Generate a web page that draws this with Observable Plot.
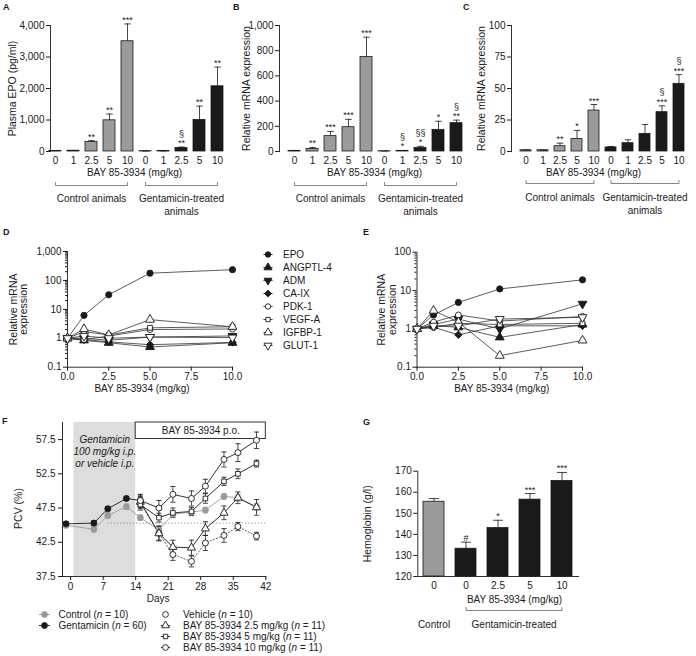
<!DOCTYPE html>
<html><head><meta charset="utf-8">
<script src="https://cdn.jsdelivr.net/npm/d3@7"></script>
<script src="https://cdn.jsdelivr.net/npm/@observablehq/plot@0.6"></script>
<style>
body{margin:0;background:#fff;}
#fig{position:relative;width:696px;height:656px;overflow:hidden;font-family:"Liberation Sans",Arial,Helvetica,sans-serif;color:#1a1a1a;}
#fig svg{position:absolute;overflow:visible;}
.lt{position:absolute;font-weight:bold;font-size:9px;line-height:9px;}
</style></head><body><div id="fig"></div>
<script>
// ---------------- DATA ----------------
const doses = ["0", "1", "2.5", "5", "10"];
// Panel A: plasma EPO (pg/ml)
const aControl = [20, 25, 300, 990, 3500];
const aControlErr = [5, 5, 45, 200, 550];
const aGent = [10, 15, 110, 1000, 2070];
const aGentErr = [3, 3, 30, 440, 610];
const aSigControl = ["", "", "**", "**", "***"];
const aSigGent = ["", "", "§\n**", "**", "**"];
// Panel B: EPO mRNA (kidney)
const bControl = [5, 20, 122, 193, 750];
const bControlErr = [2, 12, 37, 62, 157];
const bGent = [2, 5, 29, 172, 225];
const bGentErr = [1, 3, 12, 68, 24];
const bSigControl = ["", "**", "***", "***", "***"];
const bSigGent = ["", "§\n*", "§§\n*", "*", "§\n**"];
// Panel C: EPO mRNA (liver)
const cControl = [1, 1, 4.2, 10, 32.5];
const cControlErr = [0.2, 0.2, 2.4, 6.7, 4.8];
const cGent = [3.2, 6.6, 14, 31.2, 53.7];
const cGentErr = [0.8, 2.7, 7.4, 5, 7.3];
const cSigControl = ["", "", "**", "*", "***"];
const cSigGent = ["", "", "", "§\n***", "§\n***"];
// Panels D/E: relative mRNA expression by gene
const genes = ["EPO", "ANGPTL-4", "ADM", "CA-IX", "PDK-1", "VEGF-A", "IGFBP-1", "GLUT-1"];
const geneDoses = [0, 1, 2.5, 5, 10];
const dValues = [
  [1, 6.2, 32, 178, 235],
  [1, 0.85, 0.7, 0.5, 0.7],
  [1, 1.0, 0.85, 1.1, 1.2],
  [1, 0.9, 0.75, 0.6, 0.72],
  [1, 0.9, 1.2, 2.0, 2.1],
  [1, 1.7, 1.3, 2.3, 2.5],
  [1, 2.1, 1.3, 4.4, 2.5],
  [1, 1.2, 1.0, 1.1, 1.05]
];
const eValues = [
  [1, 2.3, 4.9, 11, 19],
  [1, 1.2, 1.1, 0.6, 1.3],
  [1, 1.3, 1.8, 1.0, 4.5],
  [1, 1.1, 0.7, 1.2, 1.2],
  [1, 1.5, 2.3, 1.6, 2.1],
  [1, 1.1, 1.4, 1.3, 1.4],
  [1, 3.0, 1.5, 0.2, 0.5],
  [1, 1.2, 1.2, 1.8, 2.0]
];
// Panel F: PCV (%) over days
const gentPeriod = [0.7, 14];
const bayPeriod = [14, 42];
const pcvBaseline = 45.3;
const daysAll = [-1, 5, 8, 12, 15, 19, 22, 26, 29, 33, 36, 40];
const pcvControl = [45.0, 44.4, 46.4, 47.7, 46.1, 44.3, 46.6, 46.9, 47.2, 49.2, 49.0, 47.7];
const pcvControlErr = [0.4, 0.4, 0.4, 0.4, 0.4, 0.5, 0.4, 0.4, 0.4, 0.4, 0.5, 0.5];
const daysGent = [-1, 5, 8, 12, 15];
const pcvGent = [45.2, 45.3, 47.4, 48.9, 48.6];
const pcvGentErr = [0.3, 0.3, 0.3, 0.3, 0.9];
const daysBay = [15, 19, 22, 26, 29, 33, 36, 40];
const pcvVehicle = [48.2, 43.8, 40.7, 39.7, 42.4, 43.5, 44.8, 43.4];
const pcvVehicleErr = [0.8, 1.0, 0.85, 0.8, 1.1, 1.0, 0.6, 0.55];
const pcvBay25 = [48.4, 43.8, 41.8, 41.7, 44.5, 46.8, 49.0, 47.6];
const pcvBay25Err = [0.8, 1.1, 1.0, 1.1, 1.0, 1.0, 0.85, 1.15];
const pcvBay5 = [48.0, 46.1, 46.8, 47.0, 48.9, 51.4, 52.5, 54.0];
const pcvBay5Err = [0.8, 0.65, 0.7, 0.6, 0.7, 0.6, 0.7, 0.5];
const pcvBay10 = [48.6, 47.5, 49.5, 48.9, 50.7, 54.6, 55.6, 57.4];
const pcvBay10Err = [0.8, 1.1, 1.15, 1.1, 1.0, 1.1, 1.3, 1.2];
// Panel G: hemoglobin (g/l)
const hbDoses = ["0", "0", "2.5", "5", "10"];
const hbValues = [155.5, 133.2, 143.0, 156.5, 165.4];
const hbErr = [1.5, 3.1, 3.7, 2.9, 4.0];
const hbSig = ["", "#", "*", "***", "***"];

// ---------------- STYLE / HELPERS ----------------
const FONT = '"Liberation Sans", Arial, Helvetica, sans-serif';
const INK = "#1a1a1a";
const GRAY = "#9b9b9b";
const fig = document.getElementById("fig");
const hline = {draw(ctx, size) { const r = Math.sqrt(size / Math.PI); ctx.moveTo(-r, 0); ctx.lineTo(r, 0); }};
const triDown = {draw(ctx, size) {
  const s3 = Math.sqrt(3), y = -Math.sqrt(size / (s3 * 3));
  ctx.moveTo(0, -y * 2); ctx.lineTo(-s3 * y, y); ctx.lineTo(s3 * y, y); ctx.closePath();
}};
const geneSymbol = ["circle", "triangle", triDown, "diamond2", "circle", "square", "triangle", triDown];
const geneFill = [INK, INK, INK, INK, "white", "white", "white", "white"];
const geneR = [3.1, 3.3, 3.3, 3.4, 3.0, 2.7, 3.3, 3.3];

function place(svg, left, top) {
  svg.style.left = left + "px"; svg.style.top = top + "px";
  fig.appendChild(svg);
}
function letter(t, x, y) {
  const d = document.createElement("div"); d.className = "lt"; d.textContent = t;
  d.style.left = x + "px"; d.style.top = y + "px"; fig.appendChild(d);
}
function baseStyle(size = "10px") {
  return {fontFamily: FONT, fontSize: size, color: INK, background: "transparent", overflow: "visible"};
}
function yTitle(text, dx, dy = 0) {
  return Plot.text([text], {frameAnchor: "left", rotate: -90, dx, dy, text: d => d, textAnchor: "middle", lineAnchor: "middle", fontSize: 10.5, lineHeight: 1.0});
}
function xTitle(text, dx, dy) {
  return Plot.text([text], {frameAnchor: "bottom", dx, dy, text: d => d, textAnchor: "middle", lineAnchor: "middle", fontSize: 10});
}

// ---------------- BAR PANELS ----------------
function barPanel(c) {
  const rows = [];
  c.series.forEach((s) => s.values.forEach((v, i) => rows.push({
    key: s.prefix + i, label: s.labels[i], value: v, err: s.errs[i], sig: s.sig[i], fill: s.fill
  })));
  const keys = rows.map(r => r.key);
  const labelOf = new Map(rows.map(r => [r.key, r.label]));
  const n = keys.length;
  const frameH = c.height - c.mT - c.mB;
  const y0 = c.yDomain[0], y1 = c.yDomain[1];
  const py = px => y0 - px * (y1 - y0) / frameH;
  const start = c.first - c.left - c.bw / 2;
  const xr = [start, start + (n - 1) * c.step + c.bw];
  const brPts = [];
  c.brackets.forEach((b, i) => {
    brPts.push({g: i, k: b[0], y: py(c.brY - 3)}, {g: i, k: b[0], y: py(c.brY)},
               {g: i, k: b[1], y: py(c.brY)}, {g: i, k: b[1], y: py(c.brY - 3)});
  });
  const frameCX = (c.mL + c.width - c.mR) / 2;
  const marks = [
    Plot.frame({anchor: "left", stroke: INK, strokeWidth: 0.9}),
    c.baseline ? Plot.frame({anchor: "bottom", stroke: INK, strokeWidth: 0.9}) : null,
    Plot.axisY({ticks: c.yTicks, tickFormat: c.yFmt, tickSize: 4, tickPadding: 2, label: null, fontSize: 10}),
    Plot.axisX({tickSize: 0, tickPadding: 5, tickFormat: k => labelOf.get(k), label: null, fontSize: 10}),
    Plot.barY(rows, {x: "key", y1: y0, y2: "value", fill: "fill", stroke: INK, strokeWidth: 0.8}),
    Plot.ruleX(rows, {x: "key", y1: "value", y2: d => d.value + d.err, stroke: INK, strokeWidth: 0.8}),
    Plot.dot(rows, {x: "key", y: d => d.value + d.err, symbol: hline, r: c.cap, stroke: INK, strokeWidth: 0.8}),
    Plot.text(rows, {x: "key", y: d => d.value + d.err, text: "sig", lineAnchor: "bottom", dy: -1, fontSize: 9, lineHeight: 1.05}),
    xTitle(c.xTitle, c.titleX - c.left - frameCX, c.titleDy),
    Plot.line(brPts, {x: "k", y: "y", z: "g", stroke: "#666", strokeWidth: 0.8}),
    yTitle(c.yLabel, c.yLabelX - c.left - c.mL)
  ];
  c.groupLabels.forEach(g => marks.push(
    Plot.text([g], {x: () => g.key, y: () => py(c.glY), dx: g.dx || 0, text: () => g.text, lineAnchor: "top", fontSize: 10, lineHeight: 1.3})
  ));
  const svg = Plot.plot({
    width: c.width, height: c.height,
    marginLeft: c.mL, marginRight: c.mR, marginTop: c.mT, marginBottom: c.mB,
    style: baseStyle(),
    x: {domain: keys, range: xr, paddingInner: 1 - c.bw / c.step, paddingOuter: 0},
    y: {domain: c.yDomain},
    marks
  });
  place(svg, c.left, c.top);
}

function ctrlGent(ctrl, ctrlErr, ctrlSig, gent, gentErr, gentSig) {
  return [
    {prefix: "c", labels: doses, values: ctrl, errs: ctrlErr, sig: ctrlSig, fill: GRAY},
    {prefix: "g", labels: doses, values: gent, errs: gentErr, sig: gentSig, fill: INK}
  ];
}
const topGroups = [
  {key: "c2", text: "Control animals"},
  {key: "g2", text: "Gentamicin-treated\nanimals"}
];

barPanel({left: 0, top: 0, width: 228, height: 215, mL: 50, mR: 5, mT: 25, mB: 64,
  first: 55, step: 18, bw: 11.5, cap: 3.3,
  yDomain: [0, 4000], yTicks: [0, 1000, 2000, 3000, 4000], yFmt: d3.format(","),
  yLabel: "Plasma EPO (pg/ml)", yLabelX: 12,
  series: ctrlGent(aControl, aControlErr, aSigControl, aGent, aGentErr, aSigGent),
  xTitle: "BAY 85-3934 (mg/kg)", titleX: 134, titleDy: 21,
  brackets: [["c0", "c4"], ["g0", "g4"]], brY: 34, glY: 41, groupLabels: topGroups});

barPanel({left: 228, top: 0, width: 240, height: 215, mL: 51, mR: 5, mT: 25, mB: 64,
  first: 294, step: 18, bw: 11.5, cap: 3.3,
  yDomain: [0, 1000], yTicks: [0, 200, 400, 600, 800, 1000], yFmt: d3.format(","),
  yLabel: "Relative mRNA expression", yLabelX: 246,
  series: ctrlGent(bControl, bControlErr, bSigControl, bGent, bGentErr, bSigGent),
  xTitle: "BAY 85-3934 (mg/kg)", titleX: 374, titleDy: 21,
  brackets: [["c0", "c4"], ["g0", "g4"]], brY: 34, glY: 41, groupLabels: topGroups});

barPanel({left: 460, top: 0, width: 236, height: 215, mL: 51, mR: 5, mT: 25, mB: 64,
  first: 525, step: 17.2, bw: 11.5, cap: 3.3,
  yDomain: [0, 100], yTicks: [0, 25, 50, 75, 100], yFmt: d3.format(","),
  yLabel: "Relative mRNA expression", yLabelX: 481,
  series: ctrlGent(cControl, cControlErr, cSigControl, cGent, cGentErr, cSigGent),
  xTitle: "BAY 85-3934 (mg/kg)", titleX: 593, titleDy: 21,
  brackets: [["c0", "c4"], ["g0", "g4"]], brY: 32, glY: 40, groupLabels: topGroups});

barPanel({left: 350, top: 420, width: 250, height: 236, mL: 67.3, mR: 22, mT: 50.7, mB: 80,
  first: 433.3, step: 32.2, bw: 21.5, cap: 5,
  yDomain: [120, 170], yTicks: [120, 130, 140, 150, 160, 170], yFmt: d3.format("d"),
  yLabel: "Hemoglobin (g/l)", yLabelX: 367, baseline: true,
  series: [
    {prefix: "c", labels: hbDoses.slice(0, 1), values: hbValues.slice(0, 1), errs: hbErr.slice(0, 1), sig: hbSig.slice(0, 1), fill: GRAY},
    {prefix: "g", labels: hbDoses.slice(1), values: hbValues.slice(1), errs: hbErr.slice(1), sig: hbSig.slice(1), fill: INK}
  ],
  xTitle: "BAY 85-3934 (mg/kg)", titleX: 514, titleDy: 23,
  brackets: [["g0", "g3"]], brY: 34, glY: 42,
  groupLabels: [{key: "c0", text: "Control"}, {key: "g1", dx: 16.1, text: "Gentamicin-treated"}]});

// ---------------- LOG LINE PANELS (D, E) ----------------
const logMinor = [];
for (const dec of [0.1, 1, 10, 100]) for (let k = 2; k <= 9; k++) logMinor.push(dec * k);

function logPanel(c) {
  const marks = [
    Plot.frame({anchor: "left", stroke: INK, strokeWidth: 0.9}),
    Plot.frame({anchor: "bottom", stroke: INK, strokeWidth: 0.9}),
    Plot.axisY({ticks: c.yTicks, tickFormat: d3.format(","), tickSize: 4, tickPadding: 2, label: null, fontSize: 10}),
    Plot.axisY({ticks: logMinor.filter(v => v > c.yDomain[0] && v < c.yDomain[1]), tickFormat: () => "", tickSize: 2, label: null}),
    Plot.axisX({ticks: [0, 2.5, 5, 7.5, 10], tickFormat: d3.format(".1f"), tickSize: 4, tickPadding: 2, label: null, fontSize: 10}),
    xTitle("BAY 85-3934 (mg/kg)", c.titleDx, 22),
    yTitle("Relative mRNA\nexpression", c.yLabelDx)
  ];
  genes.forEach((g, gi) => {
    const rows = geneDoses.map((d, i) => ({dose: d, value: c.values[gi][i]}));
    marks.push(Plot.line(rows, {x: "dose", y: "value", stroke: "#333", strokeWidth: 0.8}));
  });
  genes.forEach((g, gi) => {
    const rows = geneDoses.map((d, i) => ({dose: d, value: c.values[gi][i]}));
    marks.push(Plot.dot(rows, {x: "dose", y: "value", symbol: geneSymbol[gi], r: geneR[gi], fill: geneFill[gi], stroke: INK, strokeWidth: 0.9}));
  });
  const svg = Plot.plot({
    width: c.width, height: c.height, marginLeft: c.mL, marginRight: c.mR, marginTop: c.mT, marginBottom: c.mB,
    style: baseStyle(),
    x: {domain: [0, 10]},
    y: {type: "log", domain: c.yDomain},
    marks
  });
  place(svg, c.left, c.top);
}
logPanel({left: 0, top: 215, width: 250, height: 190, mL: 67, mR: 18, mT: 36, mB: 38.3,
  yDomain: [0.1, 1000], yTicks: [0.1, 1, 10, 100, 1000], values: dValues, titleDx: -8, yLabelDx: -49});
logPanel({left: 350, top: 215, width: 250, height: 190, mL: 66.5, mR: 18, mT: 36.7, mB: 38.3,
  yDomain: [0.1, 100], yTicks: [0.1, 1, 10, 100], values: eValues, titleDx: 2, yLabelDx: -30});

// legend for D/E
(function () {
  const items = genes.map((g, i) => ({gene: g, i}));
  const marks = [
    Plot.dot(items, {frameAnchor: "left", y: "gene", dx: 17.5, symbol: hline, r: 4.6, stroke: "#333", strokeWidth: 0.9})
  ];
  items.forEach(it => marks.push(Plot.dot([it], {frameAnchor: "left", y: "gene", dx: 17.5, symbol: geneSymbol[it.i], r: geneR[it.i] * 0.9, fill: geneFill[it.i], stroke: INK, strokeWidth: 0.9})));
  marks.push(Plot.text(items, {frameAnchor: "left", y: "gene", dx: 32.5, text: "gene", textAnchor: "start", lineAnchor: "middle", fontSize: 10}));
  const svg = Plot.plot({width: 110, height: 110, margin: 0, style: baseStyle(),
    y: {type: "point", domain: genes, range: [9, 100.7], padding: 0, axis: null}, marks});
  place(svg, 250, 245);
})();

// ---------------- PANEL F ----------------
(function () {
  const W = 300, H = 236, mL = 62, mR = 34.7, mT = 2, mB = 80;
  const frameH = H - mT - mB;
  const series = [
    {days: daysAll, v: pcvControl, e: pcvControlErr, sym: "circle", fill: GRAY, stroke: GRAY, line: GRAY, dash: null},
    {days: daysGent, v: pcvGent, e: pcvGentErr, sym: "circle", fill: INK, stroke: INK, line: INK, dash: null},
    {days: daysBay, v: pcvVehicle, e: pcvVehicleErr, sym: "circle", fill: "white", stroke: INK, line: "#555", dash: "1.3,2"},
    {days: daysBay, v: pcvBay25, e: pcvBay25Err, sym: "triangle", fill: "white", stroke: INK, line: INK, dash: null},
    {days: daysBay, v: pcvBay5, e: pcvBay5Err, sym: "square", fill: "white", stroke: INK, line: INK, dash: null},
    {days: daysBay, v: pcvBay10, e: pcvBay10Err, sym: "circle", fill: "white", stroke: INK, line: INK, dash: null}
  ];
  const marks = [
    Plot.rect([gentPeriod], {x1: d => d[0], x2: d => d[1], fill: "#dddddd"}),
    Plot.frame({anchor: "left", stroke: INK, strokeWidth: 0.9}),
    Plot.frame({anchor: "bottom", stroke: INK, strokeWidth: 0.9}),
    Plot.axisY({ticks: [37.5, 42.5, 47.5, 52.5, 57.5], tickFormat: d3.format(".1f"), tickSize: 4, tickPadding: 3, label: null, fontSize: 10}),
    Plot.axisX({ticks: [0, 7, 14, 21, 28, 35, 42], tickSize: 4, tickPadding: 2, label: null, fontSize: 10}),
    Plot.ruleY([pcvBaseline], {x1: 8, x2: 42, stroke: "#777", strokeWidth: 0.8, strokeDasharray: "1.2,2"}),
    Plot.rect([bayPeriod], {x1: d => d[0], x2: d => d[1], insetBottom: frameH - 16.5, fill: "white", stroke: INK, strokeWidth: 0.9}),
    Plot.text([bayPeriod], {x: d => (d[0] + d[1]) / 2, frameAnchor: "top", dy: 8.5, lineAnchor: "middle", text: () => "BAY 85-3934 p.o.", fontSize: 10}),
    Plot.text([gentPeriod], {x: d => (d[0] + d[1]) / 2, frameAnchor: "top", dy: 11.5, lineAnchor: "top", lineHeight: 1.2,
      text: () => "Gentamicin\n100 mg/kg i.p.\nor vehicle i.p.", fontStyle: "italic", fontSize: 10}),
    xTitle("Days", -6, 22),
    yTitle("PCV (%)", -44, 9)
  ];
  const rowsOf = s => s.days.map((d, i) => ({day: d, v: s.v[i], e: s.e[i]}));
  series.forEach(s => marks.push(
    Plot.ruleX(rowsOf(s), {x: "day", y1: d => d.v - d.e, y2: d => d.v + d.e, stroke: s.stroke, strokeWidth: 0.8}),
    Plot.dot(rowsOf(s), {x: "day", y: d => d.v - d.e, symbol: hline, r: 2.6, stroke: s.stroke, strokeWidth: 0.8}),
    Plot.dot(rowsOf(s), {x: "day", y: d => d.v + d.e, symbol: hline, r: 2.6, stroke: s.stroke, strokeWidth: 0.8})
  ));
  series.forEach(s => marks.push(
    Plot.line(rowsOf(s), {x: "day", y: "v", stroke: s.line, strokeWidth: 0.9, strokeDasharray: s.dash || undefined})
  ));
  series.forEach(s => marks.push(
    Plot.dot(rowsOf(s), {x: "day", y: "v", symbol: s.sym, r: s.sym === "square" ? 2.6 : 3, fill: s.fill, stroke: s.stroke, strokeWidth: 0.9})
  ));
  const svg = Plot.plot({width: W, height: H, marginLeft: mL, marginRight: mR, marginTop: mT, marginBottom: mB,
    style: baseStyle(), x: {domain: [-1.75, 42]}, y: {domain: [37.5, 60]}, marks});
  place(svg, 0, 420);

  // legend
  const items = [
    {col: 0, row: 0, label: "Control (n = 10)", sym: "circle", fill: GRAY, stroke: GRAY, line: true},
    {col: 0, row: 1, label: "Gentamicin (n = 60)", sym: "circle", fill: INK, stroke: INK, line: true},
    {col: 1, row: 0, label: "Vehicle (n = 10)", sym: "circle", fill: "white", stroke: INK, line: false},
    {col: 1, row: 1, label: "BAY 85-3934 2.5 mg/kg (n = 11)", sym: "triangle", fill: "white", stroke: INK, line: true},
    {col: 1, row: 2, label: "BAY 85-3934 5 mg/kg (n = 11)", sym: "square", fill: "white", stroke: INK, line: true},
    {col: 1, row: 3, label: "BAY 85-3934 10 mg/kg (n = 11)", sym: "circle", fill: "white", stroke: INK, line: true}
  ];
  const lm = [];
  items.forEach(it => {
    if (it.line) lm.push(Plot.dot([it], {x: "col", y: "row", symbol: hline, r: it.col ? 4.6 : 5.5, stroke: it.stroke, strokeWidth: 0.9}));
    lm.push(Plot.dot([it], {x: "col", y: "row", symbol: it.sym, r: it.sym === "square" ? 2.5 : 2.9, fill: it.fill, stroke: it.stroke, strokeWidth: 0.9}));
  });
  lm.push(Plot.text(items.filter(d => d.col === 0), {x: "col", y: "row", dx: 14, text: "label", textAnchor: "start", lineAnchor: "middle", fontSize: 10}));
  lm.push(Plot.text(items.filter(d => d.col === 1), {x: "col", y: "row", dx: 17.5, text: "label", textAnchor: "start", lineAnchor: "middle", fontSize: 10}));
  const leg = Plot.plot({width: 340, height: 53, margin: 0, style: baseStyle(),
    x: {type: "point", domain: [0, 1], range: [43.3, 165], padding: 0, axis: null},
    y: {type: "point", domain: [0, 1, 2, 3], range: [10.3, 44.3], padding: 0, axis: null}, marks: lm});
  place(leg, 0, 603);
  // italic n
  leg.querySelectorAll("text").forEach(t => {
    const s = t.textContent; const m = s.indexOf("(n =");
    if (m < 0) return;
    t.textContent = "";
    const ns = "http://www.w3.org/2000/svg";
    const a = document.createElementNS(ns, "tspan"); a.textContent = s.slice(0, m + 1);
    const b = document.createElementNS(ns, "tspan"); b.textContent = "n"; b.setAttribute("font-style", "italic");
    const c = document.createElementNS(ns, "tspan"); c.textContent = s.slice(m + 2);
    t.append(a, b, c);
  });
})();

// ---------------- PANEL LETTERS ----------------
letter("A", 3, 3); letter("B", 233, 3); letter("C", 463, 3);
letter("D", 3, 228); letter("E", 363, 228);
letter("F", 2, 417); letter("G", 363, 418);
</script></body></html>
